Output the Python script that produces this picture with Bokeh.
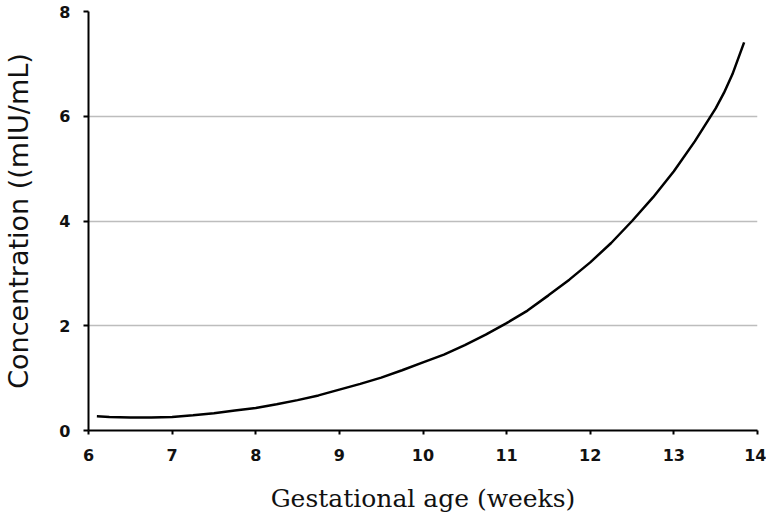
from bokeh.plotting import figure
from bokeh.models import Range1d, FixedTicker
from bokeh.embed import file_html
from bokeh.resources import INLINE

# Data
weeks = [6.10, 6.25, 6.50, 6.75, 7.00, 7.25, 7.50, 7.75, 8.00, 8.25, 8.50, 8.75,
         9.00, 9.25, 9.50, 9.75, 10.00, 10.25, 10.50, 10.75, 11.00, 11.25, 11.50,
         11.75, 12.00, 12.25, 12.50, 12.75, 13.00, 13.25, 13.50, 13.60, 13.70, 13.84]
conc = [0.27, 0.26, 0.25, 0.25, 0.26, 0.29, 0.33, 0.38, 0.43, 0.50, 0.58, 0.67,
        0.78, 0.89, 1.01, 1.15, 1.30, 1.45, 1.63, 1.83, 2.05, 2.29, 2.58,
        2.88, 3.21, 3.58, 4.00, 4.45, 4.95, 5.52, 6.15, 6.45, 6.80, 7.41]
x_ticks = [6, 7, 8, 9, 10, 11, 12, 13, 14]
y_ticks = [0, 2, 4, 6, 8]
x_title = "Gestational age (weeks)"
y_title = "Concentration ((mIU/mL)"

p = figure(width=766, height=518, output_backend="svg", toolbar_location=None,
           x_range=Range1d(6, 14), y_range=Range1d(0, 8),
           min_border_left=87, min_border_right=9, min_border_top=11,
           min_border_bottom=88)
p.outline_line_color = None
p.background_fill_color = "white"

p.line(weeks, conc, line_color="black", line_width=2.5)

p.xgrid.visible = False
p.ygrid.grid_line_color = "#bdbdbd"
p.ygrid.grid_line_width = 1.5
p.ygrid.ticker = FixedTicker(ticks=y_ticks)

p.xaxis.ticker = FixedTicker(ticks=x_ticks)
p.yaxis.ticker = FixedTicker(ticks=y_ticks)

for ax in (p.xaxis[0], p.yaxis[0]):
    ax.axis_line_color = "black"
    ax.axis_line_width = 2
    ax.major_tick_line_color = "black"
    ax.major_tick_line_width = 2
    ax.major_tick_in = 0
    ax.minor_tick_line_color = None
    ax.major_label_text_font = "DejaVu Sans"
    ax.major_label_text_font_style = "bold"
    ax.major_label_text_font_size = "16px"
    ax.major_label_text_color = "#111111"

p.xaxis.major_tick_out = 4
p.yaxis.major_tick_out = 5
p.xaxis.major_label_standoff = 14
p.yaxis.major_label_standoff = 13

p.xaxis.axis_label = x_title
p.xaxis.axis_label_text_font = "DejaVu Serif"
p.xaxis.axis_label_text_font_style = "normal"
p.xaxis.axis_label_text_font_size = "25px"
p.xaxis.axis_label_standoff = 20
p.xaxis.axis_label_text_color = "#111111"

p.yaxis.axis_label = y_title
p.yaxis.axis_label_text_font = "DejaVu Sans"
p.yaxis.axis_label_text_font_style = "normal"
p.yaxis.axis_label_text_font_size = "27px"
p.yaxis.axis_label_standoff = 22
p.yaxis.axis_label_text_color = "#111111"

open("out.html", "w").write(file_html(p, INLINE))
